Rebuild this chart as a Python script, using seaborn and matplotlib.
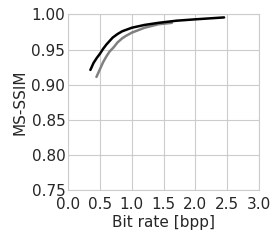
import matplotlib
matplotlib.use("Agg")
import matplotlib.pyplot as plt
import seaborn as sns

# rate-distortion curves
black_bpp = [0.35, 0.40, 0.45, 0.50, 0.55, 0.60, 0.65, 0.70, 0.775, 0.85, 1.00,
             1.20, 1.42, 1.70, 2.00, 2.45]
black_ssim = [0.921, 0.931, 0.938, 0.944, 0.951, 0.957, 0.962, 0.967, 0.972, 0.976,
              0.981, 0.985, 0.988, 0.991, 0.993, 0.9957]
gray_bpp = [0.445, 0.47, 0.50, 0.55, 0.60, 0.65, 0.714, 0.775, 0.85, 0.90, 1.00,
            1.20, 1.42, 1.63]
gray_ssim = [0.911, 0.916, 0.922, 0.932, 0.940, 0.947, 0.953, 0.960, 0.966, 0.969,
             0.974, 0.981, 0.986, 0.988]

sns.set_style("whitegrid")
plt.rcParams['font.family'] = ['DejaVu Sans']

fig, ax = plt.subplots(figsize=(2.78, 2.40), dpi=100)
sns.lineplot(x=gray_bpp, y=gray_ssim, ax=ax, color='#808080', linewidth=1.8, sort=False)
sns.lineplot(x=black_bpp, y=black_ssim, ax=ax, color='black', linewidth=1.8, sort=False)

ax.set_xlim(0, 3)
ax.set_ylim(0.75, 1.0)
ax.set_xticks([0.0, 0.5, 1.0, 1.5, 2.0, 2.5, 3.0])
ax.set_yticks([0.75, 0.80, 0.85, 0.90, 0.95, 1.00])
ax.set_xticklabels([f"{v:.1f}" for v in ax.get_xticks()])
ax.set_yticklabels([f"{v:.2f}" for v in ax.get_yticks()])
ax.tick_params(labelsize=11, length=0)
ax.tick_params(axis='x', pad=5)
ax.tick_params(axis='y', pad=2)
ax.set_xlabel("Bit rate [bpp]", fontsize=11, labelpad=2)
ax.set_ylabel("MS-SSIM", fontsize=11, labelpad=3)
for s in ax.spines.values():
    s.set_color('#cccccc')

fig.subplots_adjust(left=0.245, right=0.932, top=0.94, bottom=0.208)
fig.savefig("out.png", dpi=100)
